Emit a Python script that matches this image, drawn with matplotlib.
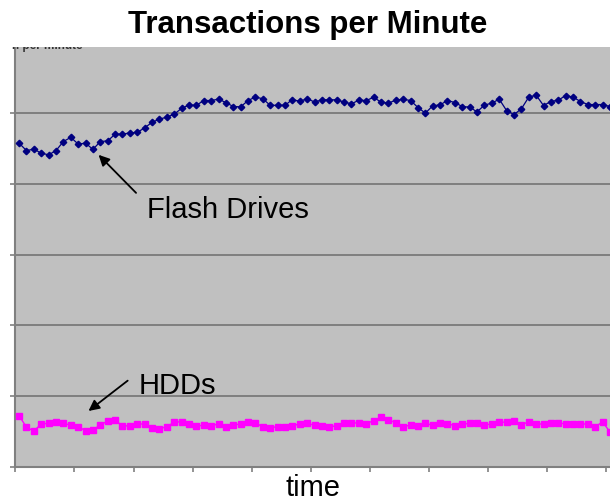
import numpy as np
import matplotlib
matplotlib.use("Agg")
import matplotlib.pyplot as plt
from matplotlib.patches import Rectangle

plt.rcParams["font.family"] = ["Liberation Sans", "DejaVu Sans"]

# transactions per minute, one sample per time step
flash = [4572, 4467, 4487, 4431, 4407, 4467, 4595, 4654, 4559, 4572,
         4484, 4595, 4604, 4699, 4699, 4717, 4724, 4788, 4866, 4911,
         4939, 4981, 5063, 5110, 5106, 5174, 5174, 5193, 5145, 5089,
         5085, 5174, 5223, 5198, 5106, 5106, 5106, 5188, 5162, 5200,
         5152, 5184, 5184, 5184, 5152, 5127, 5179, 5174, 5219, 5151,
         5137, 5179, 5191, 5174, 5075, 4996, 5099, 5113, 5174, 5145,
         5089, 5080, 5014, 5109, 5137, 5193, 5032, 4976, 5056, 5222,
         5250, 5103, 5160, 5179, 5244, 5222, 5160, 5117, 5117, 5117,
         5089]
hdd = [725, 561, 508, 607, 617, 631, 617, 589, 569, 513,
       523, 593, 650, 660, 579, 583, 607, 607, 547, 541,
       569, 631, 640, 607, 579, 589, 583, 607, 569, 593,
       607, 640, 621, 569, 555, 569, 569, 583, 607, 617,
       589, 583, 565, 583, 617, 617, 626, 612, 654, 702,
       664, 626, 569, 593, 579, 617, 589, 626, 612, 583,
       603, 617, 626, 593, 607, 636, 631, 654, 593, 640,
       607, 607, 617, 617, 612, 607, 607, 607, 569, 636,
       494]
steps = np.arange(len(flash))

W, H = 610, 503
fig = plt.figure(figsize=(W / 100, H / 100), dpi=100)
ax = fig.add_axes([14.5 / W, 36 / H, 1 - 14.5 / W, 425 / H])
ax.set_facecolor("#c0c0c0")

ax.plot(steps, flash, color="#000080", lw=0.9, marker="D", ms=3.3, zorder=3)
ax.plot(steps, hdd, color="#ff00ff", lw=1, marker="s", ms=4.2, zorder=3)

ax.set_xlim(-0.62, 80.0)
ax.set_ylim(0, 6000)
ax.set_xticks(np.arange(-0.5, 80, 8))
ax.set_yticks(np.arange(0, 6001, 1000))
ax.set_xticklabels([])
ax.set_yticklabels([])
ax.tick_params(direction="out", length=3.5, width=1.2, color="#808080")
ax.yaxis.grid(True, color="#7a7a7a", lw=1.3)
ax.set_axisbelow(True)
for s in ["top", "right"]:
    ax.spines[s].set_visible(False)
for s in ["left", "bottom"]:
    ax.spines[s].set_color("#808080")
    ax.spines[s].set_linewidth(1.5)

arrow = dict(arrowstyle="-|>", color="black", lw=1.3, mutation_scale=16)
ax.annotate("", xy=(10.5, 4435), xytext=(16.1, 3842), arrowprops=arrow)
ax.annotate("", xy=(9.1, 767), xytext=(15.0, 1243), arrowprops=arrow)
ax.text(17.3, 3517, "Flash Drives", fontsize=21, va="baseline", ha="left")
ax.text(16.2, 1031, "HDDs", fontsize=21, va="baseline", ha="left")

# clipped axis title peeking out under the chart title
fig.text(12 / W, 1 - 49 / H, "n per minute", fontsize=8.5, fontweight="bold",
         color="#333333", va="baseline", zorder=0.5)
fig.patches.append(Rectangle((0, 1 - 46.5 / H), 1, 46.5 / H, transform=fig.transFigure,
                             facecolor="white", edgecolor="none", zorder=1))

fig.text(308 / W, 1 - 33 / H, "Transactions per Minute", fontsize=22.5,
         fontweight="bold", ha="center", va="baseline", zorder=3)
fig.text(313 / W, 1 / H, "time", fontsize=21, ha="center", va="bottom")

fig.savefig("out.png", dpi=100)
